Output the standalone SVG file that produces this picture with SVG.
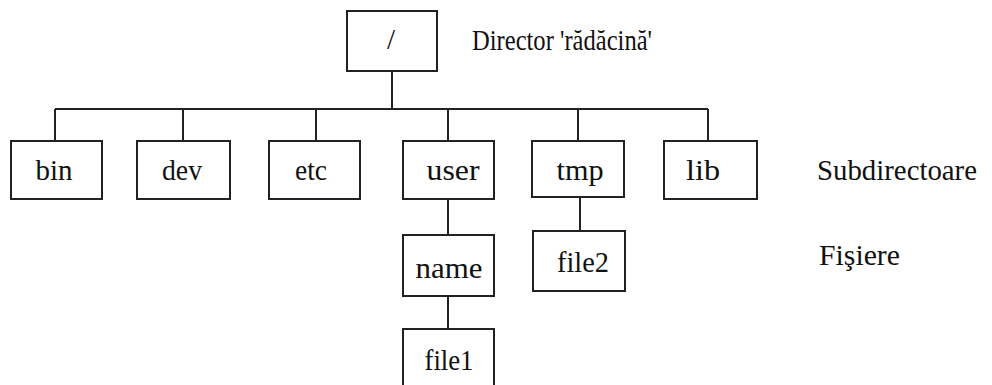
<svg xmlns="http://www.w3.org/2000/svg" width="992" height="385" viewBox="0 0 992 385">
  <style>
    .box { fill: #ffffff; stroke: #222222; stroke-width: 2; }
    .link { fill: none; stroke: #222222; stroke-width: 2; }
    .lbl { font-family: "Liberation Serif", "DejaVu Serif", serif; font-size: 29px; fill: #111111; text-anchor: middle; }
    .note { font-family: "Liberation Serif", "DejaVu Serif", serif; font-size: 29px; fill: #111111; }
  </style>
  <rect width="992" height="385" fill="#ffffff"/>

  <!-- tree connectors -->
  <g id="connectors">
    <path class="link" d="M392 71 V109"/>
    <path class="link" d="M55 109 H708"/>
    <path class="link" d="M55 109 V141"/>
    <path class="link" d="M183 109 V141"/>
    <path class="link" d="M316 109 V141"/>
    <path class="link" d="M448 109 V141"/>
    <path class="link" d="M578 109 V141"/>
    <path class="link" d="M708 109 V141"/>
    <path class="link" d="M448 199 V235"/>
    <path class="link" d="M448 296 V329"/>
    <path class="link" d="M580 197 V231"/>
  </g>

  <g id="root">
    <rect class="box" x="347" y="11" width="90" height="60"/>
    <text class="lbl" x="391" y="49">/</text>
  </g>

  <g id="bin">
    <rect class="box" x="11" y="141" width="91" height="58"/>
    <text class="lbl" x="54" y="180" textLength="37" lengthAdjust="spacingAndGlyphs">bin</text>
  </g>
  <g id="dev">
    <rect class="box" x="137" y="141" width="93" height="58"/>
    <text class="lbl" x="182" y="180" textLength="40" lengthAdjust="spacingAndGlyphs">dev</text>
  </g>
  <g id="etc">
    <rect class="box" x="269" y="141" width="91" height="58"/>
    <text class="lbl" x="311" y="180" textLength="32" lengthAdjust="spacingAndGlyphs">etc</text>
  </g>
  <g id="user">
    <rect class="box" x="403" y="141" width="91" height="58"/>
    <text class="lbl" x="453" y="180" textLength="53" lengthAdjust="spacingAndGlyphs">user</text>
  </g>
  <g id="tmp">
    <rect class="box" x="532" y="141" width="92" height="56"/>
    <text class="lbl" x="580" y="180" textLength="47" lengthAdjust="spacingAndGlyphs">tmp</text>
  </g>
  <g id="lib">
    <rect class="box" x="664" y="141" width="93" height="58"/>
    <text class="lbl" x="703" y="180" textLength="34" lengthAdjust="spacingAndGlyphs">lib</text>
  </g>

  <g id="name">
    <rect class="box" x="403" y="235" width="91" height="61"/>
    <text class="lbl" x="449" y="278" textLength="67" lengthAdjust="spacingAndGlyphs">name</text>
  </g>
  <g id="file2">
    <rect class="box" x="533" y="231" width="92" height="60"/>
    <text class="lbl" x="583" y="272" textLength="52" lengthAdjust="spacingAndGlyphs">file2</text>
  </g>
  <g id="file1">
    <rect class="box" x="403" y="329" width="91" height="62"/>
    <text class="lbl" x="449" y="370" textLength="49" lengthAdjust="spacingAndGlyphs">file1</text>
  </g>

  <!-- level captions -->
  <g id="captions">
    <text class="note" x="472" y="50" textLength="180" lengthAdjust="spacingAndGlyphs">Director 'rădăcină'</text>
    <text class="note" x="817" y="180" textLength="160" lengthAdjust="spacingAndGlyphs">Subdirectoare</text>
    <text class="note" x="819" y="265" textLength="81" lengthAdjust="spacingAndGlyphs">Fişiere</text>
  </g>
</svg>
